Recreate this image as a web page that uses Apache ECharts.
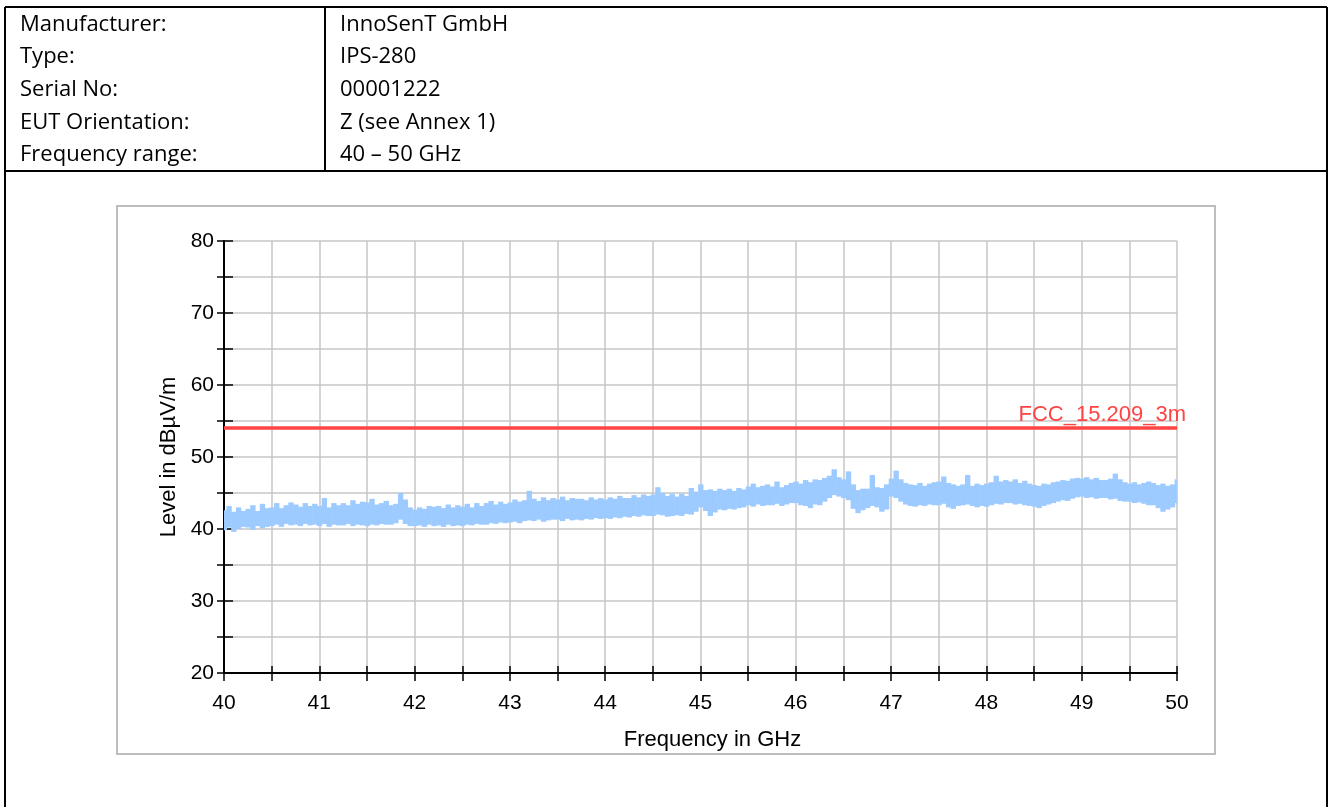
<!DOCTYPE html>
<html>
<head>
<meta charset="utf-8">
<script src="https://cdn.jsdelivr.net/npm/echarts@6/dist/echarts.min.js"></script>
<style>
html,body{margin:0;padding:0;background:#fff;}
#chart{width:1333px;height:807px;}
</style>
</head>
<body>
<div id="chart"></div>
<script>
// ---- header table ----
const headerLabels = ['Manufacturer:', 'Type:', 'Serial No:', 'EUT Orientation:', 'Frequency range:'];
const headerValues = ['InnoSenT GmbH', 'IPS-280', '00001222', 'Z (see Annex 1)', '40 \u2013 50 GHz'];

// ---- axes ----
const xMin = 40, xMax = 50, xStep = 0.5;
const yMin = 20, yMax = 80, yStep = 5;
const xTitle = 'Frequency in GHz';
const yTitle = 'Level in dB\u00b5V/m';

// ---- measured trace (sampling grid 40..50 GHz, 0.05 GHz): upper / lower envelope ----
const freqStart = 40, freqStep = 0.05;
const levelHigh = [
  42.6, 43.2, 42.4, 43.0, 42.5,  42.8, 43.3, 42.5, 43.5, 42.9,
  43.0, 43.6, 42.9, 43.3, 43.7,  43.4, 43.1, 43.6, 43.2, 43.5,
  43.2, 44.3, 43.0, 43.6, 43.3,  43.6, 43.3, 44.0, 43.5, 43.8,
  43.7, 44.2, 43.4, 43.6, 43.9,  43.3, 43.5, 45.0, 44.1, 43.0,
  42.7, 43.0, 42.8, 43.2, 43.1,  43.2, 42.9, 43.4, 43.0, 43.3,
  43.1, 43.5, 43.0, 43.6, 43.2,  43.6, 43.9, 43.4, 43.8, 43.5,
  43.7, 44.1, 43.8, 44.0, 45.3,  44.2, 43.9, 44.4, 44.0, 44.3,
  44.1, 44.5, 44.0, 44.3, 44.2,  44.2, 44.0, 44.4, 44.1, 44.3,
  44.1, 44.4, 44.2, 44.6, 44.3,  44.3, 44.7, 44.4, 44.8, 44.6,
  44.8, 45.8, 45.0, 44.6, 44.9,  44.5, 44.9, 44.6, 45.7, 45.2,
  46.2, 45.4, 45.5, 45.3, 45.6,  45.4, 45.6, 45.3, 45.7, 45.5,
  45.9, 46.3, 45.8, 46.0, 46.2,  45.9, 46.6, 45.8, 46.1, 46.4,
  46.6, 46.3, 46.8, 46.5, 46.9,  46.8, 47.1, 47.4, 48.3, 47.2,
  46.9, 48.0, 46.2, 45.4, 45.6,  45.6, 47.5, 45.8, 45.7, 46.2,
  47.0, 48.1, 46.9, 46.4, 46.2,  46.1, 46.4, 46.0, 46.3, 46.5,
  46.6, 47.3, 46.4, 46.2, 46.0,  46.2, 47.5, 46.0, 46.3, 46.1,
  46.3, 46.5, 47.4, 46.6, 46.8,  46.6, 46.9, 46.4, 46.7, 46.3,
  46.1, 46.0, 46.3, 46.2, 46.5,  46.6, 46.8, 46.7, 47.0, 47.1,
  47.0, 47.2, 46.9, 47.1, 46.8,  46.8, 47.0, 47.7, 46.9, 46.5,
  46.3, 46.5, 46.2, 46.4, 46.6,  46.4, 46.1, 46.3, 46.0, 46.2,
  46.9
];
const levelLow = [
  39.8, 40.2, 39.6, 40.0, 40.3,  40.2, 39.9, 40.4, 40.1, 40.3,
  40.4, 40.6, 40.3, 40.7, 40.5,  40.6, 40.4, 40.7, 40.5, 40.6,
  40.4, 40.7, 40.3, 40.6, 40.5,  40.5, 40.7, 40.4, 40.6, 40.5,
  40.4, 40.6, 40.5, 40.7, 40.6,  40.6, 40.8, 41.3, 40.7, 40.4,
  40.4, 40.5, 40.3, 40.6, 40.4,  40.5, 40.3, 40.6, 40.4, 40.5,
  40.4, 40.6, 40.5, 40.7, 40.6,  40.6, 40.8, 40.7, 40.9, 40.8,
  40.9, 41.0, 40.8, 41.1, 41.2,  41.1, 41.3, 41.0, 41.2, 41.3,
  41.3, 41.1, 41.4, 41.2, 41.3,  41.2, 41.4, 41.3, 41.5, 41.4,
  41.5, 41.4, 41.6, 41.5, 41.7,  41.6, 41.8, 41.7, 41.9, 41.8,
  41.8, 42.0, 41.9, 41.7, 41.8,  41.9, 41.8, 42.1, 42.0, 42.4,
  43.0, 42.5, 41.8, 42.3, 42.7,  42.6, 42.8, 42.7, 42.9, 43.0,
  43.3, 43.1, 43.4, 43.2, 43.3,  43.3, 43.5, 43.2, 43.4, 43.6,
  43.6, 43.3, 43.2, 42.9, 43.4,  43.3, 43.8, 44.3, 44.7, 44.5,
  44.3, 44.0, 42.8, 42.2, 42.6,  42.9, 43.2, 43.0, 42.4, 42.7,
  44.5, 44.3, 43.8, 43.4, 43.2,  43.1, 43.3, 43.2, 43.4, 43.3,
  43.3, 43.5, 43.0, 42.8, 43.2,  43.3, 43.4, 43.2, 43.0, 43.2,
  43.1, 43.3, 43.5, 43.4, 43.6,  43.6, 43.4, 43.5, 43.3, 43.2,
  43.1, 42.9, 43.2, 43.4, 43.6,  43.8, 44.0, 43.9, 44.2, 44.4,
  44.5, 44.3, 44.4, 44.2, 44.3,  44.3, 44.1, 44.2, 43.9, 43.8,
  43.8, 43.6, 43.7, 43.5, 43.3,  43.3, 42.9, 42.4, 42.7, 43.0,
  43.6
];

// ---- limit line ----
const limitLevel = 54;
const limitName = 'FCC_15.209_3m';

const bandData = levelLow.map((lo, i) => [+(freqStart + i * freqStep).toFixed(2), lo, levelHigh[i]]);

const chart = echarts.init(document.getElementById('chart'), null, {renderer: 'canvas'});

const tableFont = '"Open Sans", "Noto Sans", sans-serif';
const graphics = [];
const lineStyle = {stroke: '#000', lineWidth: 2};
[[5, 7, 1327, 7], [5, 171, 1327, 171], [5, 7, 5, 807], [1327, 7, 1327, 807], [325, 7, 325, 171]].forEach(s => {
  graphics.push({type: 'line', shape: {x1: s[0], y1: s[1], x2: s[2], y2: s[3]}, style: lineStyle, silent: true});
});
const rowY = [25, 57, 90, 123, 155];
headerLabels.forEach((t, i) => {
  graphics.push({type: 'text', x: 20, y: rowY[i], style: {text: t, fill: '#000', font: '22px ' + tableFont, textVerticalAlign: 'middle'}});
  graphics.push({type: 'text', x: 340, y: rowY[i], style: {text: headerValues[i], fill: '#000', font: '22px ' + tableFont, textVerticalAlign: 'middle'}});
});
graphics.push({type: 'rect', shape: {x: 117, y: 206, width: 1098, height: 548}, style: {fill: 'none', stroke: '#bdbdbd', lineWidth: 2}, silent: true, z: -1});

const fam = '"Liberation Sans", Arial, sans-serif';
const tickFont = {fontFamily: fam, fontSize: 21, color: '#000'};
const titleFont = {fontFamily: fam, fontSize: 22, color: '#000'};
const gridLine = {show: true, lineStyle: {color: '#c6c6c6', width: 1.5}};

chart.setOption({
  animation: false,
  graphic: graphics,
  grid: {left: 224, right: 156, top: 241, bottom: 134, containLabel: false},
  xAxis: [{
    type: 'value', min: xMin, max: xMax, interval: xStep, position: 'bottom',
    axisLine: {show: true, onZero: false, lineStyle: {color: '#000', width: 2}},
    axisTick: {show: true, inside: false, length: 8, lineStyle: {color: '#000', width: 1.5}},
    axisLabel: Object.assign({margin: 20, formatter: v => (Math.abs(v - Math.round(v)) < 1e-9 ? String(Math.round(v)) : '')}, tickFont),
    splitLine: gridLine,
    name: xTitle, nameLocation: 'middle', nameGap: 56,
    nameTextStyle: Object.assign({padding: [0, 0, 0, 24]}, titleFont)
  }, {
    type: 'value', min: xMin, max: xMax, interval: xStep, position: 'bottom',
    axisLine: {show: false, onZero: false},
    axisTick: {show: true, inside: true, length: 7, lineStyle: {color: '#000', width: 1.5}},
    axisLabel: {show: false}, splitLine: {show: false}
  }],
  yAxis: [{
    type: 'value', min: yMin, max: yMax, interval: yStep, position: 'left',
    axisLine: {show: true, onZero: false, lineStyle: {color: '#000', width: 2}},
    axisTick: {show: true, inside: false, length: 7, lineStyle: {color: '#000', width: 1.5}},
    axisLabel: Object.assign({margin: 10, formatter: v => (v % 10 === 0 ? String(v) : '')}, tickFont),
    splitLine: gridLine,
    name: yTitle, nameLocation: 'middle', nameGap: 42, nameRotate: 90,
    nameTextStyle: titleFont
  }, {
    type: 'value', min: yMin, max: yMax, interval: yStep, position: 'left',
    axisLine: {show: false, onZero: false},
    axisTick: {show: true, inside: true, length: 9, lineStyle: {color: '#000', width: 1.5}},
    axisLabel: {show: false}, splitLine: {show: false}
  }],
  series: [{
    type: 'custom', name: 'trace', xAxisIndex: 0, yAxisIndex: 0,
    data: bandData, encode: {x: 0, y: [1, 2]}, silent: true, z: 3,
    renderItem: function (params, api) {
      const f = api.value(0), lo = api.value(1), hi = api.value(2);
      const a = api.coord([f - freqStep / 2, hi]);
      const b = api.coord([f + freqStep / 2, lo]);
      const cs = params.coordSys;
      const x0 = Math.max(a[0], cs.x), x1 = Math.min(b[0] + 0.6, cs.x + cs.width);
      return {type: 'rect', shape: {x: x0, y: a[1], width: x1 - x0, height: b[1] - a[1]},
              style: {fill: '#9dcbff'}};
    }
  }, {
    type: 'line', name: limitName, xAxisIndex: 0, yAxisIndex: 0,
    data: [], silent: true, z: 4,
    markLine: {
      silent: true, symbol: 'none', animation: false,
      lineStyle: {color: '#ff4444', width: 3.5, type: 'solid'},
      label: {show: true, position: 'insideEndTop', formatter: limitName, color: '#ff4444',
              fontFamily: fam, fontSize: 22, distance: [-9, 2]},
      data: [{yAxis: limitLevel}]
    }
  }]
});
</script>
</body>
</html>
